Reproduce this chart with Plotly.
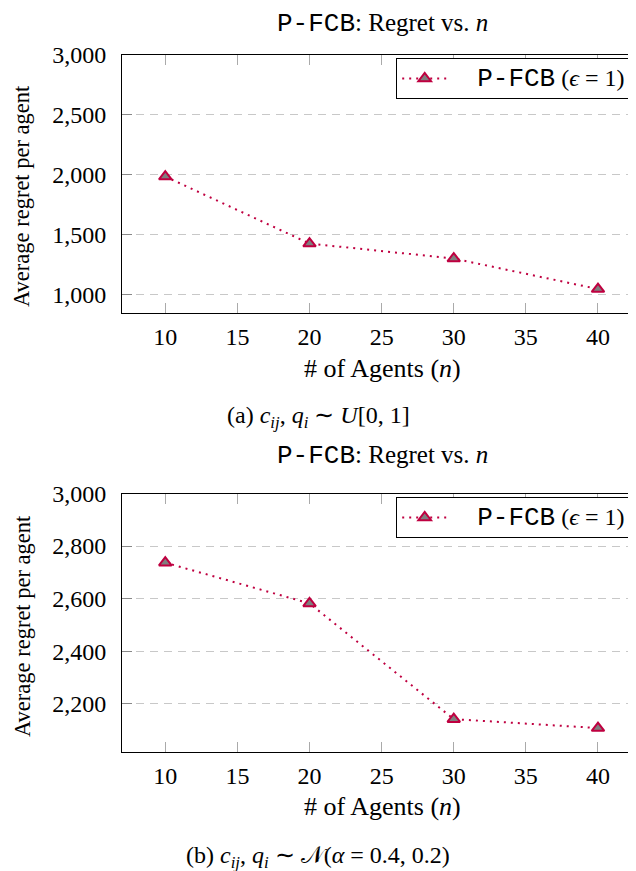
import plotly.graph_objects as go

# ---- data ----
agents = [10, 20, 30, 40]
regret_uniform = [1985, 1425, 1300, 1045]
regret_normal = [2737, 2582, 2142, 2108]
series_name = "P-FCB"
title_text = "Regret vs. "
caption_a = "(a) <i>c</i><sub><i>ij</i></sub>, <i>q</i><sub><i>i</i></sub> ∼ <i>U</i>[0, 1]"
caption_b = "(b) <i>c</i><sub><i>ij</i></sub>, <i>q</i><sub><i>i</i></sub> ∼ 𝒩(<i>α</i> = 0.4, 0.2)"

# page is offset by the default 8px body margin (left/top)
OFF = 8
W, H = 636 - OFF, 871 - OFF
L = 122 - OFF
PW = W - L

def fx(p):
    return (p - OFF - L) / PW

def fy(p):
    return 1 - (p - OFF) / H

SERIF = "Liberation Serif, Times New Roman, serif"
MONO = "Liberation Mono, Courier New, monospace"
COL = "#BF0040"

NB = "\u00a0"
legend_label = (f"{NB*5}<span style='font-family:{MONO};font-size:26px'>{series_name}</span>"
                f"<span style='font-size:24px'> (<i>ϵ</i> = 1){NB*2}</span>")

fig = go.Figure()
for vals, xa, ya, lg in [(regret_uniform, "x", "y", "legend"), (regret_normal, "x2", "y2", "legend2")]:
    fig.add_trace(go.Scatter(
        x=agents, y=vals, xaxis=xa, yaxis=ya, legend=lg,
        mode="lines+markers", name=legend_label,
        line=dict(color=COL, width=2, dash="2px,5px"),
        marker=dict(symbol="triangle-up", size=11, color="#7f7f7f",
                    line=dict(color=COL, width=2)),
        showlegend=True,
    ))

XMAX = 40 + (636 - 598) / 14.42

def xaxis_cfg(anchor):
    return dict(
        domain=[0, 1], anchor=anchor, range=[7, XMAX],
        tickvals=[10, 15, 20, 25, 30, 35, 40], ticks="inside", ticklen=10,
        tickcolor="#aaaaaa", tickwidth=1, showline=True, linecolor="black",
        linewidth=1, mirror="ticks", showgrid=False, zeroline=False,
        tickfont=dict(family=SERIF, size=24, color="black"),
        ticklabelstandoff=2, automargin=False,
    )

def yaxis_cfg(anchor, domain, rng, dtick):
    return dict(
        domain=domain, anchor=anchor, range=rng, dtick=dtick, tick0=0,
        tickformat=",d", ticks="inside", ticklen=10, tickcolor="#888888",
        tickwidth=1, showline=True, linecolor="black", linewidth=1,
        showgrid=True, gridcolor="#c8c8c8", gridwidth=1, griddash="8px,6px",
        zeroline=False, tickfont=dict(family=SERIF, size=24, color="black"),
        ticklabelstandoff=10, automargin=False,
    )

leg_common = dict(xanchor="right", yanchor="top",
                  bordercolor="black", borderwidth=1, bgcolor="white",
                  font=dict(family=SERIF, size=20, color="black"), itemwidth=45,
                  tracegroupgap=0)

fig.update_layout(
    width=W, height=H,
    margin=dict(l=L, r=0, t=0, b=0, autoexpand=False),
    paper_bgcolor="white", plot_bgcolor="white",
    xaxis=xaxis_cfg("y"),
    yaxis=yaxis_cfg("x", [fy(313), fy(55)], [845, 3000], 500),
    xaxis2=xaxis_cfg("y2"),
    yaxis2=yaxis_cfg("x2", [fy(752), fy(493.5)], [2017, 3000], 200),
    legend=dict(x=1.014, y=fy(58), **leg_common),
    legend2=dict(x=1.014, y=fy(497), **leg_common),
    showlegend=True,
)

title_html = (f"<span style='font-family:{MONO};font-size:26px'>{series_name}</span>"
              f": {title_text}<i>n</i>")
annots = [
    (title_html, 382, 24, 0, 25),
    (title_html, 382, 456, 0, 25),
    ("Average regret per agent", 22, 196, -90, 22.5),
    ("Average regret per agent", 22, 626, -90, 22.5),
    ("# of Agents (<i>n</i>)", 382, 368, 0, 26),
    ("# of Agents (<i>n</i>)", 382, 806, 0, 26),
    (caption_a, 318, 417, 0, 24),
    (caption_b, 318, 857, 0, 24),
]
for text, x, y, ang, sz in annots:
    fig.add_annotation(text=text, x=fx(x), y=fy(y), xref="paper", yref="paper",
                       xanchor="center", yanchor="middle", showarrow=False,
                       textangle=ang, font=dict(family=SERIF, size=sz, color="black"))

fig.write_html("out.html")
